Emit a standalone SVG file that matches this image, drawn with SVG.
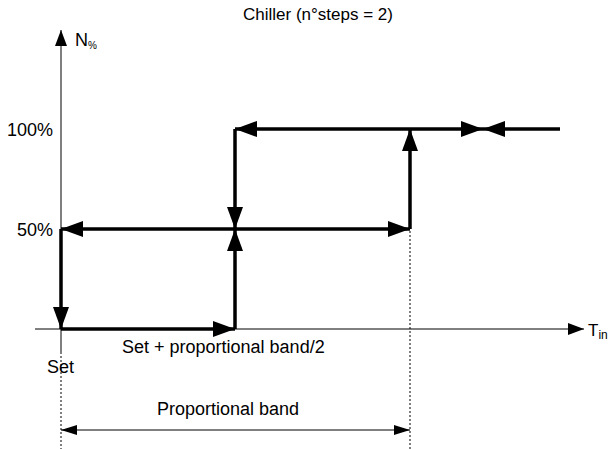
<svg xmlns="http://www.w3.org/2000/svg" width="608" height="449" viewBox="0 0 608 449">
<defs>
<style>
text{font-family:"Liberation Sans",Arial,Helvetica,sans-serif;fill:#000;font-size:17px}
.lbl{font-family:"Liberation Sans",Arial,sans-serif;font-size:18px}
.pct{font-family:"Liberation Sans",Arial,sans-serif;font-size:18px}
.thin{stroke:#000;stroke-width:1;fill:none}
.thick{stroke:#000;stroke-width:3.5;fill:none}
.dot{stroke:#000;stroke-width:1;stroke-dasharray:2,2;fill:none}
</style>
<marker id="big" viewBox="0 0 22 16" refX="22" refY="8" markerWidth="22" markerHeight="16" markerUnits="userSpaceOnUse" orient="auto-start-reverse"><path d="M0,0 L22,8 L0,16 Z" fill="#000"/></marker>
<marker id="ax" viewBox="0 0 16 12" refX="16" refY="6" markerWidth="16" markerHeight="12" markerUnits="userSpaceOnUse" orient="auto"><path d="M0,0 L16,6 L0,12 Z" fill="#000"/></marker>
<marker id="sm" viewBox="0 0 16 10" refX="16" refY="5" markerWidth="16" markerHeight="10" markerUnits="userSpaceOnUse" orient="auto-start-reverse"><path d="M0,0 L16,5 L0,10 Z" fill="#000"/></marker>
</defs>
<g id="title"><text x="318" y="20" text-anchor="middle">Chiller (n°steps = 2)</text></g>
<g id="axes">
<line class="thin" x1="61" y1="354" x2="61" y2="30" marker-end="url(#ax)"/>
<line class="thin" x1="35" y1="329" x2="584" y2="329" marker-end="url(#ax)"/>
<text x="75" y="46" class="pct" font-size="17">N<tspan font-size="10" dy="3">%</tspan></text>
<text x="588" y="336">T<tspan font-size="12" dy="3">in</tspan></text>
<text x="53" y="136" class="pct" text-anchor="end">100%</text>
<text x="53" y="236" class="pct" text-anchor="end">50%</text>
</g>
<g id="connectors">
<line class="thick" x1="235" y1="229" x2="61" y2="229" marker-end="url(#big)"/>
<line class="thick" x1="235" y1="229" x2="410" y2="229" marker-end="url(#big)"/>
<line class="thick" x1="61" y1="229" x2="61" y2="329" marker-end="url(#big)"/>
<line class="thick" x1="61" y1="329" x2="235" y2="329" marker-end="url(#big)"/>
<line class="thick" x1="235" y1="329" x2="235" y2="229" marker-end="url(#big)"/>
<line class="thick" x1="235" y1="129" x2="235" y2="229" marker-end="url(#big)"/>
<line class="thick" x1="410" y1="129" x2="235" y2="129" marker-end="url(#big)"/>
<line class="thick" x1="410" y1="129" x2="483" y2="129" marker-end="url(#big)"/>
<line class="thick" x1="560" y1="129" x2="483" y2="129" marker-end="url(#big)"/>
<line class="thick" x1="410" y1="229" x2="410" y2="129" marker-end="url(#big)"/>
<line class="dot" x1="410" y1="231" x2="410" y2="449"/>
<line class="dot" x1="61" y1="356" x2="61" y2="449"/>
<line class="thin" x1="61" y1="430" x2="410" y2="430" marker-start="url(#sm)" marker-end="url(#sm)"/>
</g>
<g id="labels">
<text x="122" y="353" class="lbl">Set + proportional band/2</text>
<text x="47" y="373" class="lbl">Set</text>
<text x="157" y="415" class="lbl">Proportional band</text>
</g>
</svg>
